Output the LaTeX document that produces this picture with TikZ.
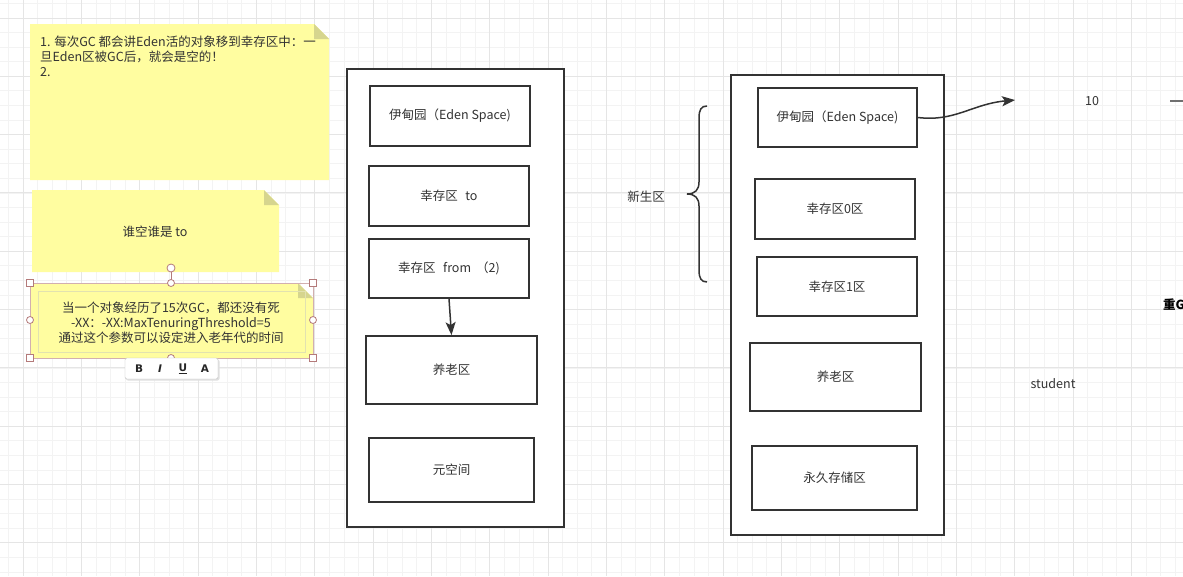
\documentclass[tikz,border=0pt]{standalone}
\usepackage{fontspec}
\setmainfont{Noto Sans CJK SC}
\newfontfamily\tbfont{DejaVu Sans}
\usetikzlibrary{arrows.meta}

\definecolor{notey}{RGB}{255,253,160}
\definecolor{notefold}{RGB}{214,213,142}
\definecolor{ink}{RGB}{51,51,51}
\definecolor{gridlo}{RGB}{243,243,243}
\definecolor{gridhi}{RGB}{229,229,229}
\definecolor{handle}{RGB}{180,122,122}

\begin{document}
\begin{tikzpicture}
[x=1pt,y=-1pt,
 heap/.style={draw=ink,line width=1.8pt,fill=white,inner sep=0pt},
 region/.style={draw=ink,line width=1.8pt,fill=white,inner sep=0pt,text=ink,font=\fontsize{12.5}{15}\selectfont},
 label/.style={text=ink,inner sep=0pt,font=\fontsize{12.5}{15}\selectfont},
 link/.style={draw=ink,line width=1.5pt,-{Stealth[length=13pt,width=10pt,inset=3pt]}},
 knob/.style={draw=handle,fill=white,line width=0.8pt},
 tool/.style={text=black!85,inner sep=0pt,font=\tbfont\fontsize{10.5}{12}\selectfont\bfseries}]
\useasboundingbox (0,0) rectangle (1183,576);
\fill[white] (0,0) rectangle (1183,576);

% grid
\foreach \i in {0,...,81}
  \draw[gridlo,line width=0.8pt] ({8.52+\i*14.583},0) -- ++(0,576);
\foreach \j in {0,...,39}
  \draw[gridlo,line width=0.8pt] (0,{3.32+\j*14.583}) -- ++(1183,0);
\foreach \i in {0,...,20}
  \draw[gridhi,line width=0.8pt] ({23.1+\i*58.33},0) -- ++(0,576);
\foreach \j in {0,...,9}
  \draw[gridhi,line width=0.8pt] (0,{17.9+\j*58.33}) -- ++(1183,0);

% notes
\fill[notey] (30,24) -- (314,24) -- (329,39) -- (329,180) -- (30,180) -- cycle;
\fill[notefold] (314,24) -- (329,39) -- (314,39) -- cycle;
\node(note1)[label,anchor=north west,align=left] at (40,36)
  {1. 每次GC 都会讲Eden活的对象移到幸存区中：一\\旦Eden区被GC后，就会是空的！\\2.};

\fill[notey] (32,190) -- (264,190) -- (279,205) -- (279,272) -- (32,272) -- cycle;
\fill[notefold] (264,190) -- (279,205) -- (264,205) -- cycle;
\node(note2)[label] at (155,232) {谁空谁是 to};

\fill[notey] (30,283) -- (298,283) -- (313,298) -- (313,358) -- (30,358) -- cycle;
\fill[notefold] (298,283) -- (313,298) -- (298,298) -- cycle;
\draw[handle!60,line width=0.6pt] (30,283) rectangle (313,358);
\draw[notefold!70,line width=1pt] (38,291) rectangle (305,352);
\node(note3)[label,align=center] at (171,323)
  {当一个对象经历了15次GC，都还没有死\\-XX：-XX:MaxTenuringThreshold=5\\通过这个参数可以设定进入老年代的时间};

% selection handles
\draw[handle,line width=0.8pt] (171,268) -- (171,283);
\foreach \p in {(30,283),(313,283),(30,358),(313,358)}
  \draw[knob] \p ++(-3.5,-3.5) rectangle ++(7,7);
\foreach \p in {(30,320),(313,320),(171,283),(171,358)}
  \draw[knob] \p circle (3.5);
\draw[knob] (171,268) circle (4);

% toolbar
\fill[black!12,rounded corners=2pt] (126,359.5) rectangle (219.5,380.5);
\draw[black!25,fill=white,rounded corners=2pt] (125,358) rectangle (218,379);
\node(tbB)[tool] at (139,368.5) {B};
\node(tbI)[tool] at (160,368.5) {\itshape I};
\node(tbU)[tool] at (183,368.5) {\underline{U}};
\node(tbA)[tool] at (205,368.5) {A};

% left heap
\node(heap1)[heap,minimum width=217,minimum height=458] at (455.5,298) {};
\node(eden1)[region,minimum width=160,minimum height=60] at (450,116) {伊甸园（Eden Space)};
\node(to1)[region,minimum width=160,minimum height=60] at (449,196) {幸存区\hspace{0.6em}to};
\node(from1)[region,minimum width=160,minimum height=59] at (449,268.5) {幸存区\hspace{0.6em}from\hspace{0.4em}（2)};
\node(old1)[region,minimum width=171,minimum height=68] at (451.5,370) {养老区};
\node(meta1)[region,minimum width=165,minimum height=64] at (451.5,470) {元空间};

\draw[link] (from1.south) -- (old1.north);

% right heap
\node(heap2)[heap,minimum width=213,minimum height=460] at (837.5,305) {};
\node(eden2)[region,minimum width=159,minimum height=59] at (837.5,117.5) {伊甸园（Eden Space)};
\node(surv0)[region,minimum width=160,minimum height=60] at (835,209) {幸存区0区};
\node(surv1)[region,minimum width=160,minimum height=59] at (837,286.5) {幸存区1区};
\node(old2)[region,minimum width=171,minimum height=68] at (835.5,377) {养老区};
\node(perm)[region,minimum width=165,minimum height=64] at (834.5,478) {永久存储区};

% brace
\draw[ink,line width=1.5pt] (707,106) .. controls (701,106) and (699,110) .. (699,118) -- (699,182)
  .. controls (699,190) and (695,194) .. (687,194) .. controls (695,194) and (699,198) .. (699,206)
  -- (699,270) .. controls (699,278) and (701,282) .. (707,282);
\node(young)[label] at (646,197) {新生区};

\coordinate (tip10) at (1015,100);
\draw[link] (eden2.east) .. controls (955,122) and (972,104) .. (tip10);

\node(ten)[label] at (1092,101) {10};
\draw[ink!70,line width=1.5pt] (1170,101) -- (1183,101);
\node(heavy)[label,anchor=west,font=\fontsize{12.5}{15}\selectfont\bfseries,text=black] at (1163,305) {重GC};
\node(student)[label] at (1053,384) {student};

\end{tikzpicture}
\end{document}
